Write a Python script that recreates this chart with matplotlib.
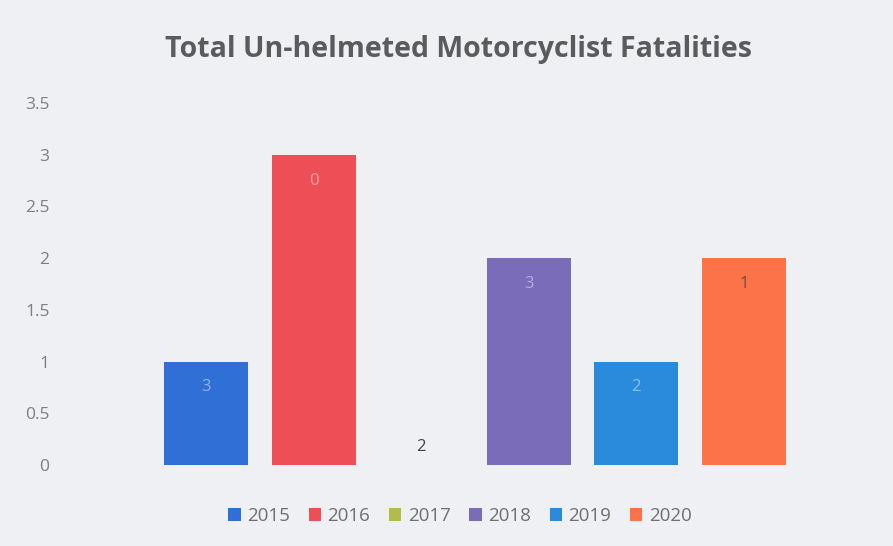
import matplotlib
matplotlib.use("Agg")
import matplotlib.pyplot as plt
from matplotlib.patches import Patch

years = ["2015", "2016", "2017", "2018", "2019", "2020"]
fatalities = [1, 3, 0, 2, 1, 2]
bar_labels = ["3", "0", "2", "3", "2", "1"]
colors = ["#2f6fd6", "#ee4e55", "#b3bb4c", "#7b6cb9", "#2a8bdc", "#fd7349"]
label_colors = ["#8fb0e6", "#f7a5a8", "#444444", "#b6acd9", "#8ec1ee", "#6a4a40"]
yticks = [0, 0.5, 1, 1.5, 2, 2.5, 3, 3.5]
ytick_labels = ["0", "0.5", "1", "1.5", "2", "2.5", "3", "3.5"]

bg = "#eef0f4"
plt.rcParams["font.family"] = ["Open Sans", "DejaVu Sans"]

fig = plt.figure(figsize=(8.93, 5.46), dpi=100, facecolor=bg)
ax = fig.add_axes([62 / 893, 1 - 465 / 546, (889 - 62) / 893, (465 - 103) / 546])
ax.set_facecolor(bg)

x = list(range(len(years)))
bars = ax.bar(x, fatalities, width=0.78, color=colors)
for xi, v, lab, lc in zip(x, fatalities, bar_labels, label_colors):
    if v > 0:
        ax.text(xi, v - 0.25, lab, ha="center", va="center", fontsize=12, color=lc)
    else:
        ax.text(xi, 0.17, lab, ha="center", va="center", fontsize=12, color=lc)

ax.set_xlim(-1.34, 6.35)
ax.set_ylim(0, 3.5)
ax.set_yticks(yticks)
ax.set_yticklabels(ytick_labels)
ax.set_xticks([])
ax.tick_params(axis="y", length=0, labelsize=12.5, labelcolor="#7f7f7f", pad=9)
for s in ax.spines.values():
    s.set_visible(False)

fig.text(0.513, 1 - 50 / 546, "Total Un-helmeted Motorcyclist Fatalities",
         ha="center", va="center", fontsize=20.5, fontweight="bold", color="#5b5b5b")

handles = [Patch(facecolor=c, edgecolor="none") for c in colors]
fig.legend(handles, years, loc="center", bbox_to_anchor=(460 / 893, 1 - 516 / 546),
           ncol=6, frameon=False, fontsize=13.5, handlelength=0.65, handleheight=0.65,
           columnspacing=1.0, handletextpad=0.35, labelcolor="#6f6f6f")

fig.savefig("out.png", dpi=100, facecolor=bg)
